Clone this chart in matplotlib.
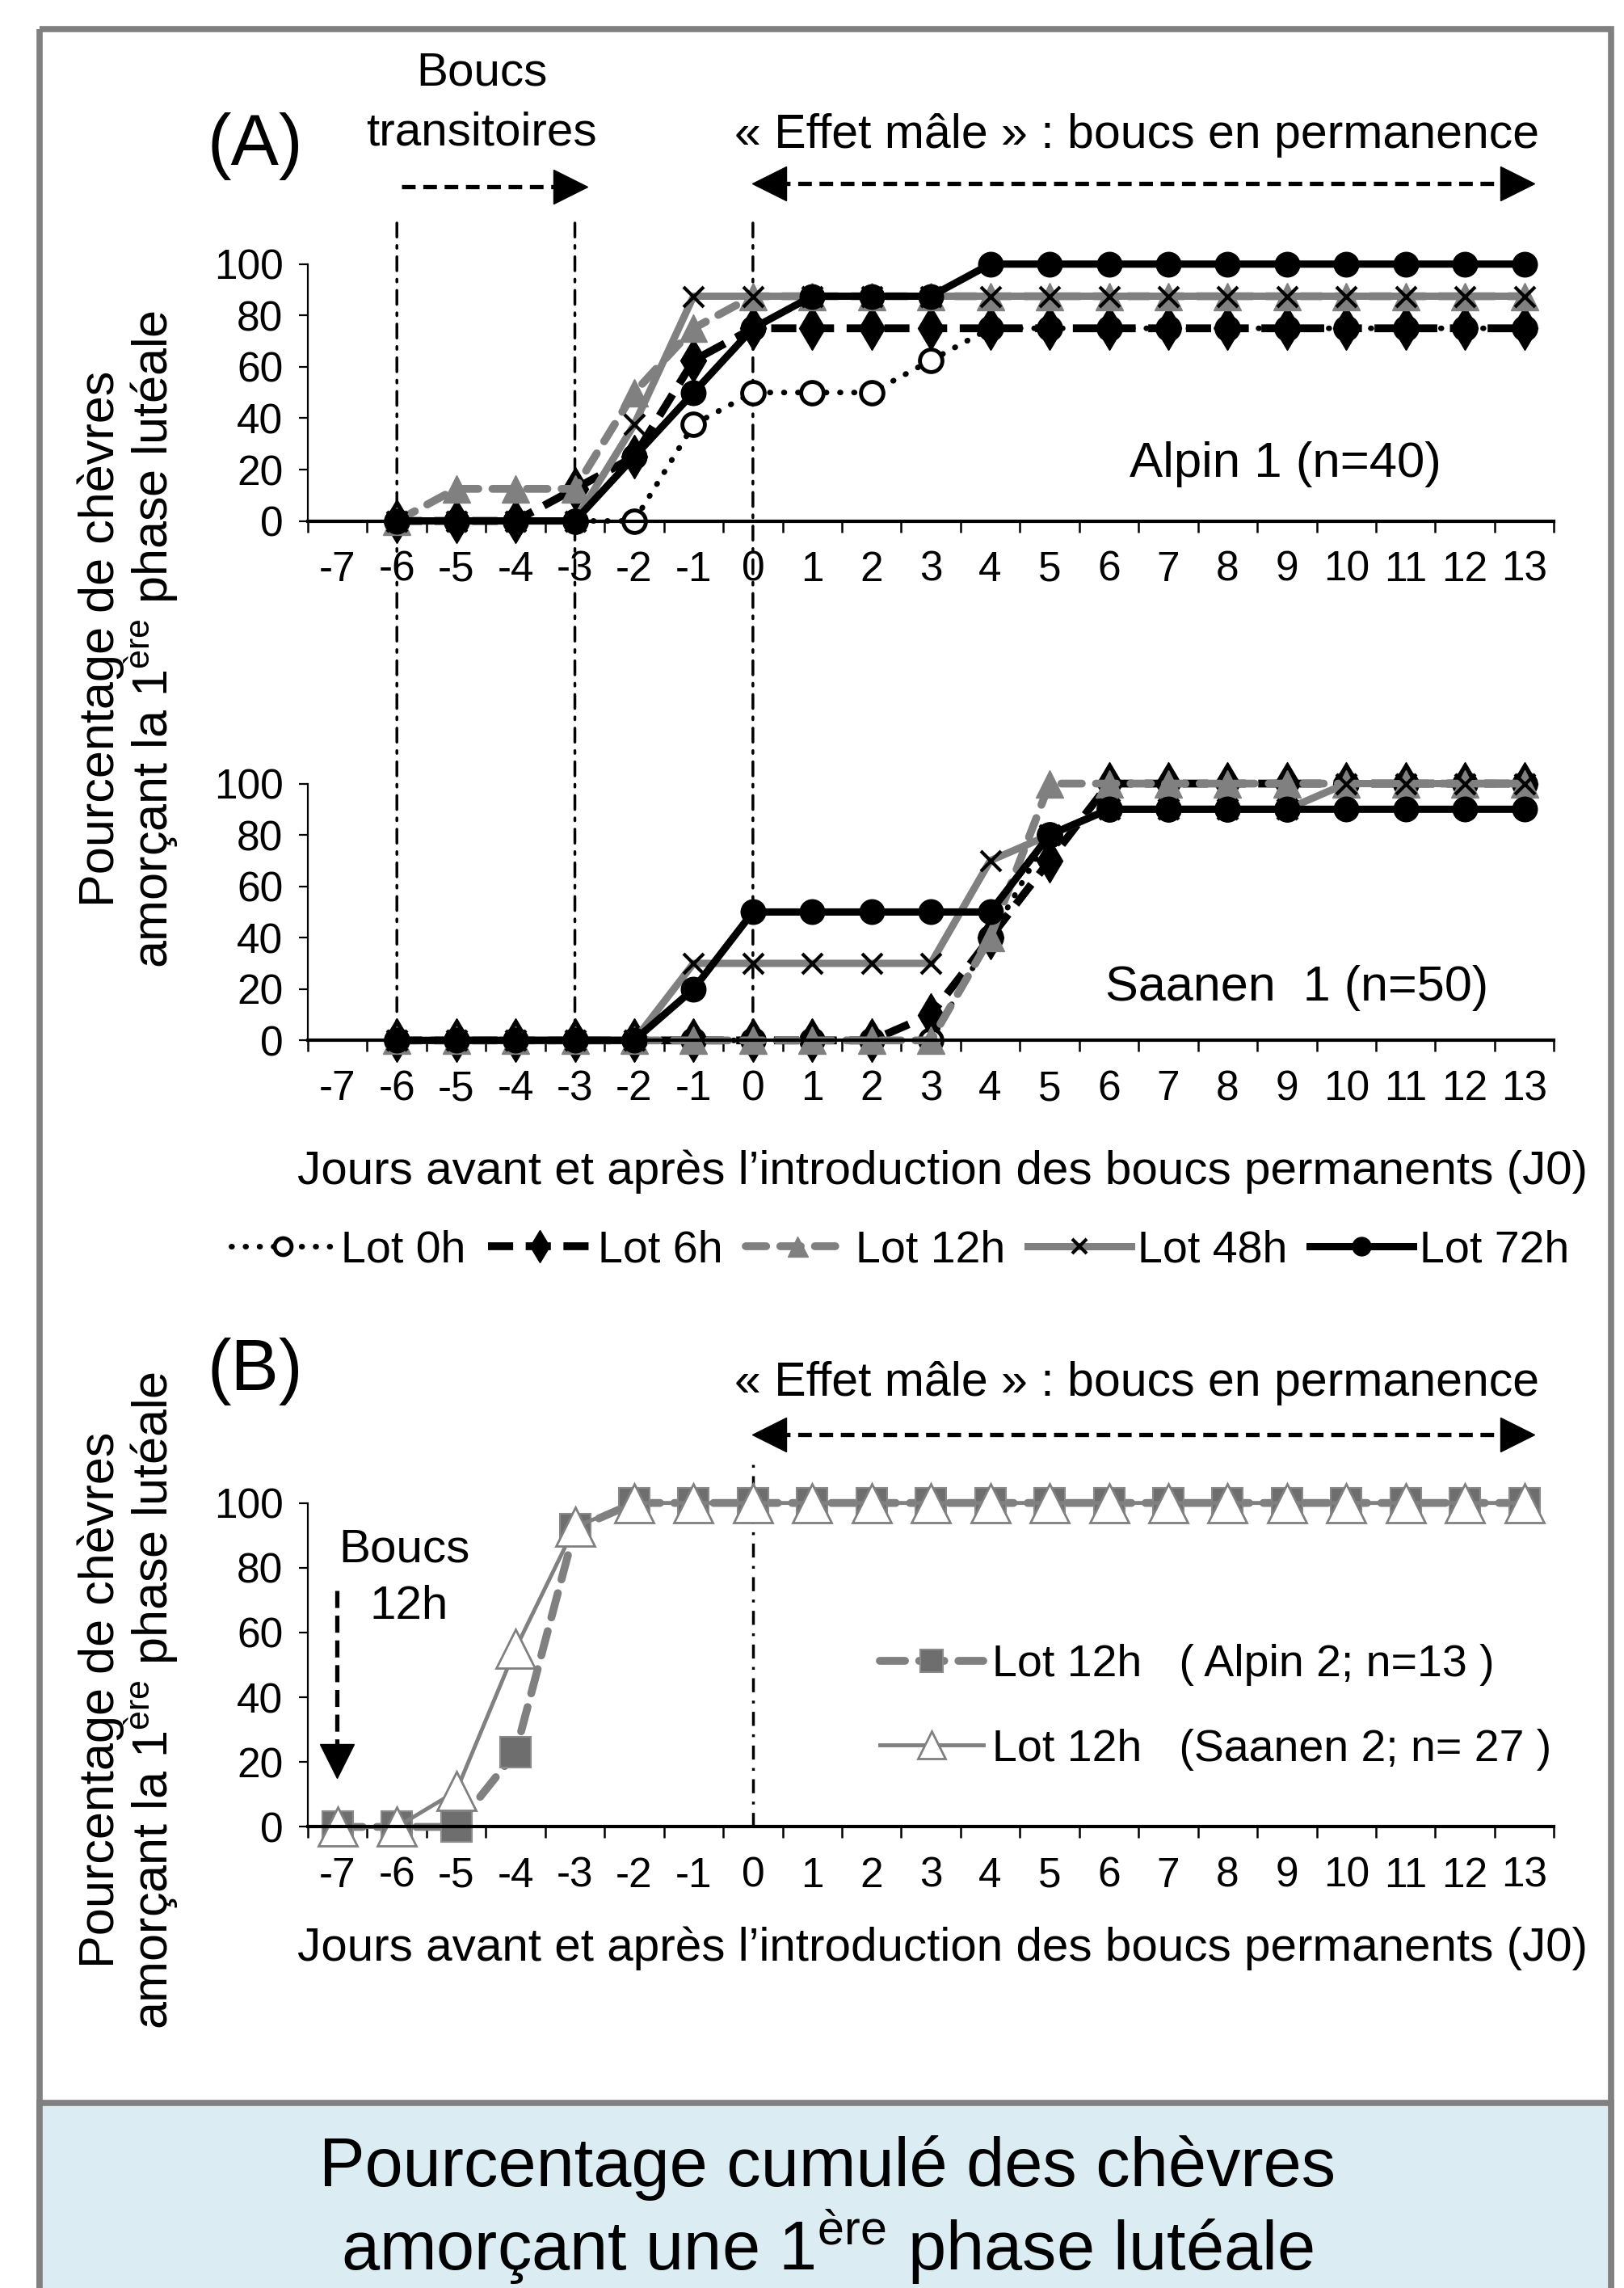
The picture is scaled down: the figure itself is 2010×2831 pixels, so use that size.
import matplotlib
matplotlib.use('Agg')
import matplotlib.pyplot as plt
from matplotlib.patches import Rectangle, ConnectionPatch
import numpy as np

plt.rcParams['font.family'] = ['Liberation Sans', 'DejaVu Sans']
plt.rcParams['mathtext.fontset'] = 'custom'
plt.rcParams['mathtext.rm'] = 'Liberation Sans'
plt.rcParams['mathtext.it'] = 'Liberation Sans:italic'

# --- données -------------------------------------------------------------
days_axis = list(range(-7, 14))
days_a = list(range(-6, 14))
days_b = list(range(-7, 14))

# Alpin 1 (n=40)
alpin_0h = [0, 0, 0, 0, 0, 37.5, 50, 50, 50, 62.5, 75, 75, 75, 75, 75, 75, 75, 75, 75, 75]
alpin_6h = [0, 0, 0, 12.5, 25, 62.5, 75, 75, 75, 75, 75, 75, 75, 75, 75, 75, 75, 75, 75, 75]
alpin_12h = [0, 12.5, 12.5, 12.5, 50, 75, 87.5, 87.5, 87.5, 87.5, 87.5, 87.5, 87.5, 87.5, 87.5, 87.5, 87.5, 87.5, 87.5, 87.5]
alpin_48h = [0, 0, 0, 0, 37.5, 87.5, 87.5, 87.5, 87.5, 87.5, 87.5, 87.5, 87.5, 87.5, 87.5, 87.5, 87.5, 87.5, 87.5, 87.5]
alpin_72h = [0, 0, 0, 0, 25, 50, 75, 87.5, 87.5, 87.5, 100, 100, 100, 100, 100, 100, 100, 100, 100, 100]

# Saanen 1 (n=50)
saanen_0h = [0, 0, 0, 0, 0, 0, 0, 0, 0, 0, 40, 80, 90, 90, 90, 90, 100, 100, 100, 100]
saanen_6h = [0, 0, 0, 0, 0, 0, 0, 0, 0, 10, 40, 70, 100, 100, 100, 100, 100, 100, 100, 100]
saanen_12h = [0, 0, 0, 0, 0, 0, 0, 0, 0, 0, 40, 100, 100, 100, 100, 100, 100, 100, 100, 100]
saanen_48h = [0, 0, 0, 0, 0, 30, 30, 30, 30, 30, 70, 80, 90, 90, 90, 90, 100, 100, 100, 100]
saanen_72h = [0, 0, 0, 0, 0, 20, 50, 50, 50, 50, 50, 80, 90, 90, 90, 90, 90, 90, 90, 90]

# (B) Lot 12h
alpin2_12h = [0, 0, 0, 23, 92, 100, 100, 100, 100, 100, 100, 100, 100, 100, 100, 100, 100, 100, 100, 100, 100]
saanen2_12h = [0, 0, 11, 55, 92.6, 100, 100, 100, 100, 100, 100, 100, 100, 100, 100, 100, 100, 100, 100, 100, 100]

events_a = [-6, -3, 0]
lot_labels = ['Lot 0h', 'Lot 6h', 'Lot 12h', 'Lot 48h', 'Lot 72h']

GRAY = '#808080'
W, H = 1113, 1568   # coordonnées de mise en page


def fx(x):
    return x / W


def fy(y):
    return 1 - y / H


fig = plt.figure(figsize=(20.10, 28.31), dpi=100)


def make_axes(y0, y100):
    ax = fig.add_axes([fx(211), fy(y0), fx(1065) - fx(211), fy(y100) - fy(y0)])
    ax.set_xlim(-7.5, 13.5)
    ax.set_ylim(0, 100)
    ax.spines['top'].set_visible(False)
    ax.spines['right'].set_visible(False)
    ax.spines['left'].set_linewidth(1.6)
    ax.spines['bottom'].set_linewidth(3)
    ax.set_yticks([0, 20, 40, 60, 80, 100])
    ax.tick_params(axis='y', labelsize=37, length=8, width=1.6, pad=14)
    ax.set_xticks(np.arange(-7.5, 14, 1))
    ax.set_xticklabels([])
    ax.set_xticks(days_axis, minor=True)
    ax.set_xticklabels([str(d) for d in days_axis], minor=True)
    ax.tick_params(axis='x', which='major', length=10, width=1.8, direction='out')
    ax.tick_params(axis='x', which='minor', length=0, labelsize=37, pad=26)
    ax.patch.set_visible(False)
    return ax


def plot_lots(ax, d0, d6, d12, d48, d72):
    h = []
    h += ax.plot(days_a, d0, color='black', lw=5, linestyle=(0, (0.1, 2.4)), dash_capstyle='round',
                 marker='o', ms=20, mfc='white', mec='black', mew=3.5, clip_on=False)
    h += ax.plot(days_a, d6, color='black', lw=7, linestyle=(0, (3.2, 1.6)),
                 marker='d', ms=27, mfc='black', mec='black', clip_on=False)
    h += ax.plot(days_a, d12, color=GRAY, lw=7, linestyle=(0, (2.6, 1.8)), dash_capstyle='round',
                 marker='^', ms=24, mfc=GRAY, mec=GRAY, clip_on=False)
    h += ax.plot(days_a, d48, color=GRAY, lw=6.5, marker='x', ms=18, mec='black', mew=3, clip_on=False)
    h += ax.plot(days_a, d72, color='black', lw=6.5, marker='o', ms=22, mfc='black', mec='black', clip_on=False)
    return h


ax1 = make_axes(357, 181)
ax2 = make_axes(713, 537)
ax3 = make_axes(1252, 1030)

handles = plot_lots(ax1, alpin_0h, alpin_6h, alpin_12h, alpin_48h, alpin_72h)
plot_lots(ax2, saanen_0h, saanen_6h, saanen_12h, saanen_48h, saanen_72h)

hb1, = ax3.plot(days_b, alpin2_12h, color=GRAY, lw=7, linestyle=(0, (3.2, 1.8)), dash_capstyle='round',
                marker='s', ms=28, mfc='#6e6e6e', mec='#8a8a8a', mew=1.5, clip_on=False)
hb2, = ax3.plot(days_b, saanen2_12h, color=GRAY, lw=3.5, marker='^', ms=34, mfc='white',
                mec=GRAY, mew=2, clip_on=False)

# lignes verticales (J-6, J-3, J0)
for d in events_a:
    con = ConnectionPatch(xyA=(d, 116), coordsA=ax1.transData, xyB=(d, 0), coordsB=ax2.transData,
                          color='black', lw=2.5, linestyle=(0, (5, 3, 1, 3)), zorder=0)
    fig.add_artist(con)
ax3.plot([0, 0], [0, 113], color='black', lw=2.5, linestyle=(0, (5, 3, 1, 3)), clip_on=False, zorder=0)

# légendes
fig.legend(handles, lot_labels, loc='center', bbox_to_anchor=(fx(617), fy(857)), ncol=5,
           frameon=False, fontsize=40, handlelength=2.3, handletextpad=0.15, columnspacing=0.5,
           borderpad=0, borderaxespad=0, markerscale=0.75)
fig.legend([hb1, hb2], ['Lot 12h   ( Alpin 2; n=13 )', 'Lot 12h   (Saanen 2; n= 27 )'],
           loc='center left', bbox_to_anchor=(fx(603), fy(1170)), frameon=False, fontsize=40,
           handlelength=2.3, handletextpad=0.2, labelspacing=0.95, borderpad=0, borderaxespad=0,
           markerscale=0.7)

# couche d'annotations
ov = fig.add_axes([0, 0, 1, 1], zorder=10)
ov.set_xlim(0, W)
ov.set_ylim(H, 0)
ov.axis('off')
ov.patch.set_visible(False)

ov.add_patch(Rectangle((27, 20), 1077, 1560, fill=False, edgecolor=GRAY, lw=5.5))
ov.add_patch(Rectangle((27, 1441), 1077, 140, facecolor='#dbedf3', edgecolor=GRAY, lw=5.5))

ylab = 'Pourcentage de chèvres\namorçant la 1$^{\\mathrm{ère}}$ phase lutéale'
ov.text(88, 438, ylab, rotation=90, ha='center', va='center', fontsize=44, linespacing=0.95)
ov.text(88, 1165, ylab, rotation=90, ha='center', va='center', fontsize=44, linespacing=0.95)

ov.text(175, 100, '(A)', ha='center', va='center', fontsize=64)
ov.text(175, 940, '(B)', ha='center', va='center', fontsize=64)
ov.text(330, 50, 'Boucs', ha='center', va='center', fontsize=42)
ov.text(330, 91, 'transitoires', ha='center', va='center', fontsize=42)
for yy in (93, 948):
    ov.text(779, yy, '« Effet mâle » : boucs en permanence', ha='center', va='center', fontsize=42.5)
ov.text(881, 318, 'Alpin 1 (n=40)', ha='center', va='center', fontsize=44.5)
ov.text(889, 677, 'Saanen  1 (n=50)', ha='center', va='center', fontsize=44)
xlab = 'Jours avant et après l’introduction des boucs permanents (J0)'
ov.text(646, 803, xlab, ha='center', va='center', fontsize=42)
ov.text(646, 1335, xlab, ha='center', va='center', fontsize=42)
ov.text(277, 1062, 'Boucs', ha='center', va='center', fontsize=42)
ov.text(280, 1101, '12h', ha='center', va='center', fontsize=42)

ov.text(567, 1486, 'Pourcentage cumulé des chèvres', ha='center', va='center', fontsize=61)
ov.text(567, 1540, 'amorçant une 1$^{\\mathrm{ère}}$ phase lutéale', ha='center', va='center', fontsize=61)

# flèches
dash = (0, (3.2, 1.8))
ov.plot([275, 388], [128, 128], color='black', lw=3.8, linestyle=dash)
ov.plot([391], [128], marker='>', ms=30, color='black')
for yy in (126, 983):
    ov.plot([532, 1036], [yy, yy], color='black', lw=3.8, linestyle=dash)
    ov.plot([527], [yy], marker='<', ms=30, color='black')
    ov.plot([1040], [yy], marker='>', ms=30, color='black')
ov.plot([231, 231], [1090, 1200], color='black', lw=3.8, linestyle=(0, (4, 1.8)))
ov.plot([231], [1207], marker='v', ms=30, color='black')

fig.savefig('out.png', dpi=100)
